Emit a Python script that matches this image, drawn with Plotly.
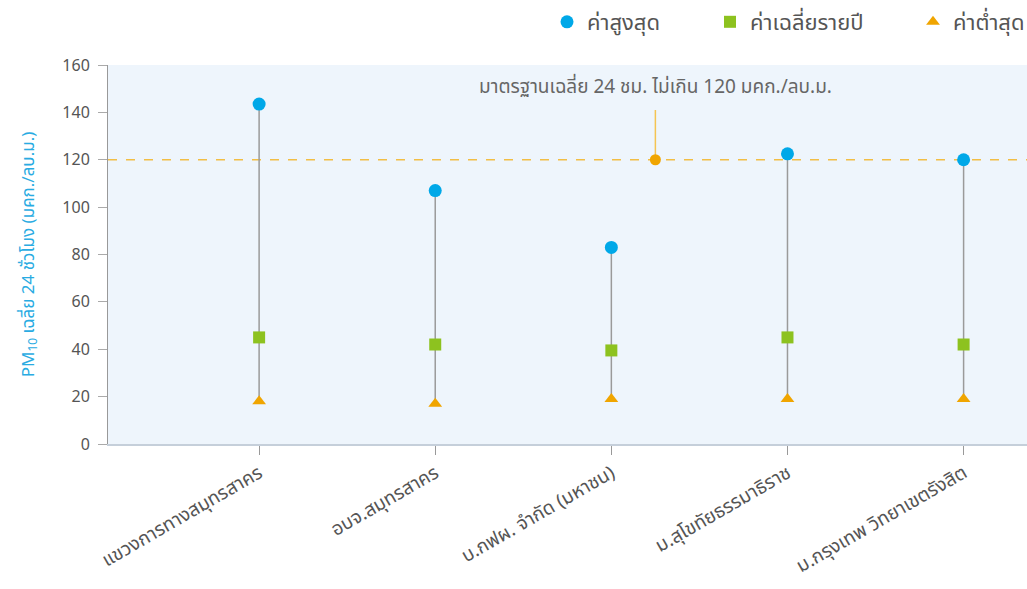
import plotly.graph_objects as go

categories = ["แขวงการทางสมุทรสาคร", "อบจ.สมุทรสาคร", "บ.กฟผ. จำกัด (มหาชน)",
              "ม.สุโขทัยธรรมาธิราช", "ม.กรุงเทพ วิทยาเขตรังสิต"]
max_vals = [143.5, 107, 83, 122.5, 120]
mean_vals = [45, 42, 39.5, 45, 42]
min_vals = [18, 17, 19, 19, 19]
standard = 120
standard_label = "มาตรฐานเฉลี่ย 24 ชม. ไม่เกิน 120 มคก./ลบ.ม."
standard_x = 2.25
standard_top = 141
y_ticks = [0, 20, 40, 60, 80, 100, 120, 140, 160]

FONT = "Noto Sans Thai, Noto Sans, Open Sans, sans-serif"
idx = list(range(len(categories)))
L, R, T, B, W, H = 108, 0, 65, 145, 1027, 589
PW = W - L - R
PH = H - T - B


def px_x(p):
    return (p - L) / PW


def px_y(p):
    return (H - B - p) / PH


fig = go.Figure()

# stems
sx, sy = [], []
for i in idx:
    sx += [i, i, None]
    sy += [min_vals[i], max_vals[i], None]
fig.add_trace(go.Scatter(x=sx, y=sy, mode="lines", line=dict(color="#9a9a9a", width=1.5),
                         showlegend=False, hoverinfo="skip"))

# standard line
fig.add_shape(type="line", xref="paper", x0=0, x1=1, yref="y", y0=standard, y1=standard,
              line=dict(color="#F2BE45", width=1.5, dash="dash"), layer="below")
fig.add_trace(go.Scatter(x=[standard_x, standard_x], y=[standard, standard_top], mode="lines",
                         line=dict(color="#F5C452", width=1.5), showlegend=False, hoverinfo="skip"))
fig.add_trace(go.Scatter(x=[standard_x], y=[standard], mode="markers",
                         marker=dict(symbol="circle", size=11, color="#F0A500"),
                         showlegend=False, hoverinfo="skip"))
fig.add_annotation(x=standard_x, y=standard_top, yshift=23, text=standard_label, showarrow=False,
                   font=dict(size=19, color="#666666", family=FONT))

fig.add_trace(go.Scatter(x=idx, y=max_vals, mode="markers", name="ค่าสูงสุด", legend="legend",
                         marker=dict(symbol="circle", size=13, color="#00A8E8")))
fig.add_trace(go.Scatter(x=idx, y=mean_vals, mode="markers", name="ค่าเฉลี่ยรายปี", legend="legend2",
                         marker=dict(symbol="square", size=12, color="#8DC21F")))
fig.add_trace(go.Scatter(x=idx, y=min_vals, mode="markers", name="ค่าต่ำสุด", legend="legend3",
                         marker=dict(symbol="triangle-up", size=12, color="#F0A500")))

leg_common = dict(orientation="h", xanchor="left", yanchor="middle", y=px_y(22),
                  font=dict(size=22, color="#555555", family=FONT), bgcolor="rgba(0,0,0,0)")
fig.update_layout(
    width=W, height=H,
    margin=dict(l=L, r=R, t=T, b=B, autoexpand=False),
    paper_bgcolor="white", plot_bgcolor="#EEF5FC",
    font=dict(family=FONT, color="#555555"),
    legend=dict(x=px_x(547), **leg_common),
    legend2=dict(x=px_x(710), **leg_common),
    legend3=dict(x=px_x(913), **leg_common),
    showlegend=True,
)
fig.update_xaxes(range=[-0.858, 4.36], tickmode="array", tickvals=idx, ticktext=categories,
                 tickangle=-30, showgrid=False, zeroline=False, showline=True, linecolor="#c5cfda",
                 linewidth=1.5, ticks="outside", ticklen=9, tickcolor="#999999",
                 tickfont=dict(size=19, color="#555555"), automargin=False)
fig.update_yaxes(range=[0, 160], tickvals=y_ticks, showgrid=False, zeroline=False, showline=True,
                 linecolor="#999999", linewidth=1, ticks="outside", ticklen=9, tickcolor="#aaaaaa",
                 ticklabelstandoff=5, automargin=False,
                 tickfont=dict(size=16, color="#555555"),
                 title=dict(text="PM<sub>10</sub> เฉลี่ย 24 ชั่วโมง (มคก./ลบ.ม.)",
                            font=dict(size=17, color="#29ABE2"), standoff=23))

fig.write_html("out.html", config={"displayModeBar": False},
               post_script="document.body.style.margin='0';document.body.style.overflow='hidden';")
